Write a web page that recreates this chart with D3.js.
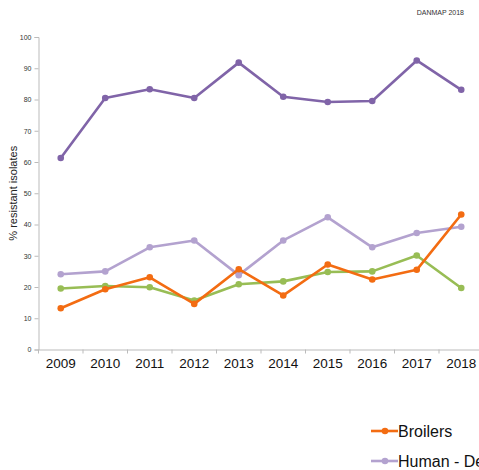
<!DOCTYPE html>
<html>
<head>
<meta charset="utf-8">
<script src="https://cdn.jsdelivr.net/npm/d3@7"></script>
<style>
  body { margin: 0; background: #fff; overflow: hidden; }
  svg { display: block; font-family: "Liberation Sans", Arial, sans-serif; }
</style>
</head>
<body>
<div id="grafico"></div>
<script>
const anios = ["2009", "2010", "2011", "2012", "2013", "2014", "2015", "2016", "2017", "2018"];
const yTicks = [0, 10, 20, 30, 40, 50, 60, 70, 80, 90, 100];

const broilers = [13.2, 19.3, 23.1, 14.6, 25.7, 17.3, 27.2, 22.4, 25.5, 43.2];
const humanoDomestico = [24.1, 25.0, 32.7, 34.9, 23.8, 34.9, 42.3, 32.7, 37.3, 39.3];
const humanoViaje = [61.3, 80.5, 83.3, 80.5, 91.8, 80.9, 79.2, 79.5, 92.5, 83.1];
const importados = [19.5, 20.3, 19.9, 15.7, 20.9, 21.8, 24.8, 25.0, 30.1, 19.7];

const seriesNombres = ["Broilers", "Human - Denmark", "Human - Travel abroad reported", "Broiler meat - Imported"];
const seriesValores = [broilers, humanoDomestico, humanoViaje, importados];
const colores = ["#f36c12", "#b3a2cf", "#8064a8", "#98bd55"];

const W = 479, H = 470;
const margin = { top: 37, left: 38.5, bottom: 120.5 };
const alto = H - margin.top - margin.bottom;

const svg = d3.select("#grafico")
  .append("svg")
  .attr("width", W)
  .attr("height", H);

const x = d3.scaleBand()
  .domain(anios)
  .range([margin.left, margin.left + 445])
  .padding(0);

const y = d3.scaleLinear()
  .domain([0, 100])
  .range([margin.top + alto, margin.top]);

// eje y
const ejeY = svg.append("g")
  .attr("transform", `translate(${margin.left},0)`)
  .call(d3.axisLeft(y).tickValues(yTicks).tickSize(4).tickPadding(3));
ejeY.select(".domain").attr("stroke", "#bbbbbb");
ejeY.selectAll(".tick line").attr("stroke", "#bbbbbb");
ejeY.selectAll("text").attr("font-size", "7px").attr("fill", "#333");

// eje x
const ejeX = svg.append("g")
  .attr("transform", `translate(0,${margin.top + alto})`)
  .call(d3.axisBottom(x).tickSize(0).tickPadding(9));
ejeX.select(".domain").attr("stroke", "#bbbbbb");
ejeX.selectAll("text").attr("font-size", "13.5px").attr("fill", "#111");

// marcas entre categorias
ejeX.selectAll(".sep")
  .data(anios)
  .enter()
  .append("line")
  .attr("class", "sep")
  .attr("x1", d => x(d))
  .attr("x2", d => x(d))
  .attr("y1", 0)
  .attr("y2", 4)
  .attr("stroke", "#bbbbbb");

svg.append("text")
  .attr("transform", `translate(17,${margin.top + alto / 2}) rotate(-90)`)
  .attr("text-anchor", "middle")
  .attr("font-size", "11px")
  .attr("fill", "#222")
  .text("% resistant isolates");

svg.append("text")
  .attr("x", 464)
  .attr("y", 15)
  .attr("text-anchor", "end")
  .attr("font-size", "7px")
  .attr("fill", "#333")
  .text("DANMAP 2018");

const linea = d3.line()
  .x((d, i) => x(anios[i]) + x.bandwidth() / 2)
  .y(d => y(d));

// dibujar en orden: viaje, domestico, importados, broilers
const orden = [2, 1, 3, 0];
orden.forEach(k => {
  const g = svg.append("g");
  g.append("path")
    .datum(seriesValores[k])
    .attr("fill", "none")
    .attr("stroke", colores[k])
    .attr("stroke-width", 2.6)
    .attr("stroke-linejoin", "round")
    .attr("d", linea);
  g.selectAll("circle")
    .data(seriesValores[k])
    .enter()
    .append("circle")
    .attr("cx", (d, i) => x(anios[i]) + x.bandwidth() / 2)
    .attr("cy", d => y(d))
    .attr("r", 3.3)
    .attr("fill", colores[k]);
});

// leyenda
const leyenda = svg.append("g");
[0, 1].forEach((k, j) => {
  const ly = 431 + j * 30;
  leyenda.append("line")
    .attr("x1", 371).attr("x2", 398)
    .attr("y1", ly).attr("y2", ly)
    .attr("stroke", colores[k])
    .attr("stroke-width", 2.6);
  leyenda.append("circle")
    .attr("cx", 385).attr("cy", ly).attr("r", 3.3)
    .attr("fill", colores[k]);
  leyenda.append("text")
    .attr("x", 398)
    .attr("y", ly + 5.5)
    .attr("font-size", "16px")
    .attr("fill", "#111")
    .text(seriesNombres[k]);
});
</script>
</body>
</html>
